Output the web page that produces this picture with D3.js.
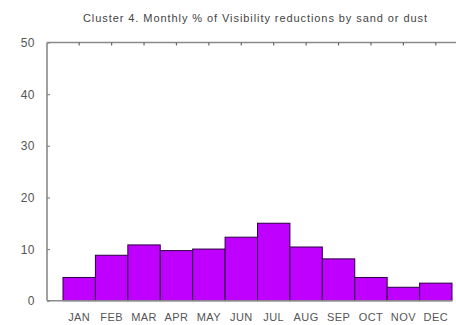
<!DOCTYPE html>
<html>
<head>
<meta charset="utf-8">
<script src="https://cdn.jsdelivr.net/npm/d3@7"></script>
<style>
  html, body { margin: 0; padding: 0; background: #fff; }
  svg { display: block; }
  text { font-family: "Liberation Sans", Arial, sans-serif; }
</style>
</head>
<body>
<script>
// Monthly share (%) of visibility reductions caused by sand or dust, cluster 4
const months = ["JAN", "FEB", "MAR", "APR", "MAY", "JUN", "JUL", "AUG", "SEP", "OCT", "NOV", "DEC"];
const values = [4.5, 8.8, 10.8, 9.7, 10.0, 12.3, 15.0, 10.4, 8.1, 4.5, 2.6, 3.4];
const yTicks = [0, 10, 20, 30, 40, 50];
const title = "Cluster 4. Monthly % of Visibility reductions by sand or dust";

const W = 456, H = 325;
const plotLeft = 47, barsLeft = 63, barsRight = 452, plotTop = 42.5, plotBottom = 300.7;

const svg = d3.select("body").append("svg").attr("width", W).attr("height", H);

const x = d3.scaleBand().domain(months).range([barsLeft, barsRight]).padding(0);
const y = d3.scaleLinear().domain([0, 50]).range([plotBottom, plotTop]);

// title
svg.append("text")
  .attr("x", 255).attr("y", 22)
  .attr("text-anchor", "middle")
  .attr("font-size", 11)
  .attr("textLength", 344)
  .attr("lengthAdjust", "spacing")
  .attr("fill", "#444")
  .text(title);

// bars
svg.append("g").selectAll("rect")
  .data(values)
  .join("rect")
  .attr("x", (d, i) => x(months[i]))
  .attr("y", d => y(d))
  .attr("width", x.bandwidth())
  .attr("height", d => plotBottom - y(d))
  .attr("fill", "#C000FF")
  .attr("stroke", "#2a0040")
  .attr("stroke-width", 1);

const axisColor = "#8a8a8a";

// left axis with inward ticks
const yAxis = svg.append("g")
  .attr("transform", `translate(${plotLeft},0)`)
  .call(d3.axisRight(y).tickValues(yTicks).tickSize(3).tickFormat(""));
yAxis.select(".domain").remove();
yAxis.selectAll(".tick line").attr("stroke", axisColor).attr("stroke-width", 1.2);
svg.append("line")
  .attr("x1", plotLeft).attr("x2", plotLeft).attr("y1", plotTop).attr("y2", plotBottom)
  .attr("stroke", axisColor).attr("stroke-width", 1.6);
svg.append("g").selectAll("text")
  .data(yTicks)
  .join("text")
  .attr("x", 35).attr("y", d => y(d) + 4.5)
  .attr("text-anchor", "end")
  .attr("font-size", 12)
  .attr("letter-spacing", 0.5)
  .attr("fill", "#555")
  .text(d => d);

// bottom baseline with month labels
svg.append("line")
  .attr("x1", plotLeft).attr("x2", barsRight).attr("y1", plotBottom).attr("y2", plotBottom)
  .attr("stroke", axisColor).attr("stroke-width", 1.6);
svg.append("g").selectAll("text")
  .data(months)
  .join("text")
  .attr("x", d => x(d) + x.bandwidth() / 2)
  .attr("y", 320.5)
  .attr("text-anchor", "middle")
  .attr("font-size", 11)
  .attr("letter-spacing", 0.4)
  .attr("fill", "#555")
  .text(d => d);

// top frame line with downward ticks at month centres
svg.append("line")
  .attr("x1", plotLeft).attr("x2", W).attr("y1", plotTop).attr("y2", plotTop)
  .attr("stroke", axisColor).attr("stroke-width", 1.6);
const xTop = svg.append("g")
  .attr("transform", `translate(0,${plotTop})`)
  .call(d3.axisBottom(x).tickSize(3).tickFormat(""));
xTop.select(".domain").remove();
xTop.selectAll(".tick line").attr("stroke", "#666").attr("stroke-width", 1.2);
</script>
</body>
</html>
